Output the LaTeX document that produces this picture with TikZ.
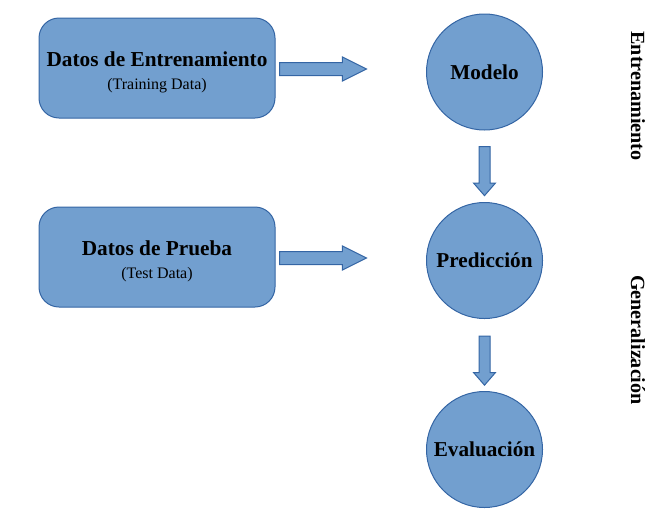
\documentclass[tikz,border=0pt]{standalone}
\usepackage{fontspec}
\setmainfont{Liberation Serif}
\usetikzlibrary{shapes.arrows}
\definecolor{relleno}{HTML}{729FCF}
\definecolor{borde}{HTML}{3465A4}

\begin{document}
\begin{tikzpicture}[x=1pt,y=-1pt,
    caja/.style={draw=borde,fill=relleno,line width=1pt,rounded corners=20pt,minimum width=236pt,minimum height=100pt,align=center},
    circulo/.style={draw=borde,fill=relleno,line width=1pt,circle,minimum size=116pt,inner sep=0pt,font=\fontsize{21.2}{24}\selectfont\bfseries},
    flechah/.style={draw=borde,fill=relleno,line width=1pt,single arrow,inner sep=6pt,single arrow head extend=5.5pt,single arrow tip angle=53,minimum height=87pt},
    flechav/.style={draw=borde,fill=relleno,line width=1pt,single arrow,shape border rotate=270,inner sep=5pt,single arrow head extend=5.5pt,single arrow tip angle=82,minimum height=49pt},
    fase/.style={rotate=-90,font=\fontsize{20.1}{24}\selectfont\bfseries}]
      \useasboundingbox (0,0) rectangle (672,528);
      % cajas de datos
      \node[caja] (entreno) at (157,68) {\rule{0pt}{23pt}{\fontsize{21.3}{24}\selectfont\bfseries Datos de Entrenamiento}\\[11pt]{\fontsize{16}{18}\selectfont (Training Data)}};
      \node[caja] (prueba) at (157,257) {\rule{0pt}{23pt}{\fontsize{21.3}{24}\selectfont\bfseries Datos de Prueba}\\[11pt]{\fontsize{16}{18}\selectfont (Test Data)}};
      % circulos
      \node[circulo] (modelo) at (484.5,72) {Modelo};
      \node[circulo] (prediccion) at (484.5,260.5) {Predicción};
      \node[circulo] (evaluacion) at (484.5,449.5) {Evaluación};
      % flechas
      \node[flechah] (f1) at (316.5,69) {};
      \node[flechah] (f2) at (316.5,258) {};
      \node[flechav] (f3) at (484.5,168) {};
      \node[flechav] (f4) at (484.5,357.5) {};
      % fases
      \node[fase] (fentreno) at (638,96) {Entrenamiento};
      \node[fase] (fgeneral) at (638,340) {Generalización};
\end{tikzpicture}
\end{document}
